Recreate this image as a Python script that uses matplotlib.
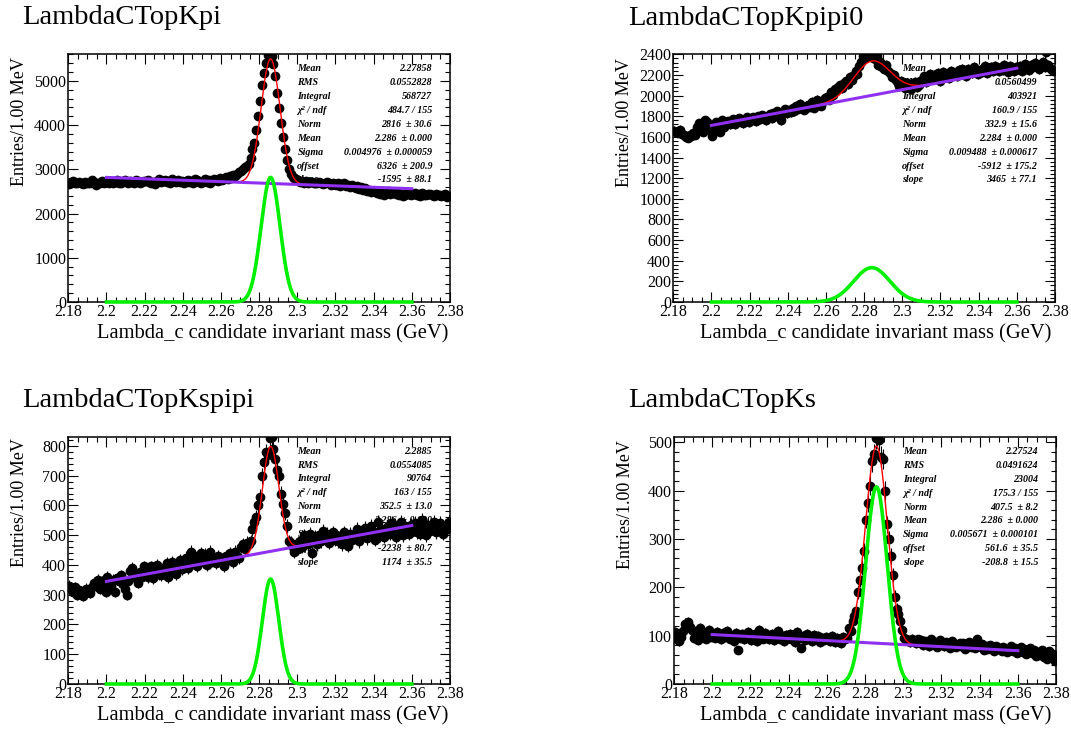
import numpy as np
import matplotlib
matplotlib.use("Agg")
import matplotlib.pyplot as plt
from matplotlib.ticker import MultipleLocator, FuncFormatter

plt.rcParams['font.family'] = ['Liberation Serif', 'DejaVu Serif']

W, H = 1071, 729

# 1 MeV bins between 2.18 and 2.38 GeV
nbins = 200
centers = np.linspace(2.1805, 2.3795, nbins)

kpi_counts = [
    2660, 2700, 2730, 2690, 2680, 2720, 2700, 2670, 2710, 2690,
    2700, 2680, 2760, 2710, 2640, 2700, 2690, 2730, 2700, 2720,
    2740, 2700, 2720, 2680, 2710, 2750, 2700, 2690, 2730, 2760,
    2720, 2700, 2740, 2710, 2690, 2760, 2730, 2700, 2720, 2740,
    2730, 2750, 2710, 2690, 2720, 2660, 2740, 2780, 2710, 2730,
    2760, 2720, 2740, 2700, 2780, 2730, 2710, 2750, 2720, 2740,
    2700, 2730, 2760, 2720, 2740, 2700, 2780, 2750, 2720, 2700,
    2740, 2790, 2720, 2760, 2700, 2740, 2780, 2760, 2730, 2800,
    2760, 2790, 2820, 2780, 2840, 2800, 2870, 2850, 2900, 2950,
    2960, 3010, 3050, 3080, 3120, 3250, 3450, 3600, 3880, 4200,
    4550, 4900, 5180, 5400, 5580, 5600, 5560, 5380, 5120, 4720,
    4380, 4040, 3740, 3470, 3210, 3000, 2900, 2830, 2800, 2790,
    2760, 2720, 2740, 2700, 2730, 2690, 2720, 2710, 2680, 2700,
    2690, 2720, 2700, 2660, 2690, 2710, 2680, 2650, 2700, 2670,
    2650, 2680, 2630, 2660, 2700, 2620, 2650, 2600, 2640, 2610,
    2580, 2620, 2560, 2600, 2540, 2570, 2500, 2530, 2480, 2520,
    2500, 2460, 2490, 2450, 2480, 2430, 2470, 2500, 2440, 2460,
    2480, 2440, 2460, 2420, 2450, 2400, 2430, 2460, 2440, 2420,
    2450, 2470, 2420, 2440, 2400, 2460, 2430, 2410, 2440, 2450,
    2420, 2400, 2450, 2410, 2430, 2390, 2420, 2440, 2380, 2400,
]

kpipi0_counts = [
    1660, 1650, 1640, 1670, 1630, 1620, 1600, 1590, 1620, 1610,
    1640, 1620, 1700, 1730, 1680, 1650, 1760, 1740, 1690, 1660,
    1610, 1700, 1740, 1720, 1650, 1760, 1700, 1730, 1750, 1720,
    1740, 1770, 1720, 1750, 1780, 1760, 1730, 1770, 1790, 1740,
    1760, 1790, 1780, 1750, 1800, 1770, 1810, 1790, 1760, 1800,
    1820, 1780, 1830, 1800, 1850, 1810, 1760, 1840, 1870, 1830,
    1860, 1840, 1880, 1850, 1900, 1870, 1920, 1890, 1860, 1880,
    1910, 1890, 1940, 1880, 1920, 1960, 1930, 1900, 1950, 1980,
    1990, 1960, 2030, 2010, 2060, 2040, 2080, 2100, 2070, 2120,
    2140, 2110, 2180, 2150, 2200, 2240, 2210, 2290, 2330, 2380,
    2360, 2400, 2390, 2370, 2400, 2350, 2380, 2300, 2330, 2280,
    2260, 2300, 2240, 2220, 2180, 2200, 2150, 2120, 2090, 2140,
    2100, 2070, 2120, 2090, 2060, 2110, 2130, 2080, 2100, 2140,
    2150, 2190, 2130, 2170, 2210, 2160, 2200, 2180, 2220, 2140,
    2200, 2230, 2180, 2210, 2170, 2240, 2200, 2220, 2190, 2250,
    2210, 2260, 2230, 2190, 2260, 2240, 2220, 2280, 2250, 2210,
    2250, 2230, 2260, 2290, 2220, 2250, 2280, 2240, 2290, 2260,
    2240, 2280, 2250, 2300, 2260, 2230, 2290, 2270, 2240, 2280,
    2260, 2290, 2240, 2270, 2310, 2260, 2250, 2300, 2280, 2320,
    2290, 2260, 2310, 2330, 2280, 2420, 2300, 2270, 2250, 2240,
]

kspipi_counts = [
    330, 320, 310, 325, 300, 315, 305, 295, 310, 320,
    315, 305, 325, 340, 330, 350, 320, 345, 335, 310,
    360, 340, 330, 350, 310, 355, 345, 365, 335, 320,
    300, 345, 380, 390, 370, 355, 340, 375, 360, 395,
    380, 360, 370, 395, 355, 385, 400, 370, 365, 390,
    375, 405, 360, 390, 410, 380, 370, 400, 415, 385,
    400, 425, 390, 410, 445, 405, 430, 395, 420, 440,
    410, 435, 400, 425, 445, 415, 420, 405, 430, 410,
    420, 395, 430, 415, 440, 425, 410, 445, 430, 425,
    460, 470, 455, 475, 470, 480, 520, 545, 560, 600,
    630, 700, 745, 780, 770, 825, 830, 790, 755, 720,
    700, 640, 605, 575, 530, 480, 475, 460, 445, 470,
    455, 480, 460, 500, 490, 470, 505, 440, 485, 495,
    470, 500, 480, 515, 490, 505, 475, 495, 510, 485,
    500, 480, 495, 470, 510, 490, 465, 505, 485, 500,
    495, 520, 480, 510, 500, 525, 490, 505, 530, 500,
    485, 510, 545, 500, 520, 495, 515, 530, 505, 540,
    510, 495, 525, 515, 545, 500, 530, 520, 505, 535,
    520, 540, 510, 530, 505, 550, 525, 500, 535, 515,
    530, 545, 510, 525, 540, 515, 505, 530, 520, 545,
]

ks_counts = [
    108, 92, 88, 98, 110, 125, 122, 128, 118, 112,
    95, 102, 90, 115, 108, 100, 94, 105, 112, 98,
    104, 96, 108, 100, 92, 106, 98, 110, 102, 94,
    100, 88, 106, 70, 96, 104, 92, 98, 108, 100,
    90, 96, 104, 88, 112, 98, 94, 106, 100, 92,
    98, 104, 90, 96, 110, 94, 100, 88, 102, 96,
    104, 92, 98, 86, 108, 96, 74, 100, 90, 104,
    92, 98, 88, 102, 94, 100, 86, 96, 90, 98,
    94, 88, 100, 92, 86, 96, 90, 84, 98, 92,
    95, 115, 110, 130, 140, 150, 190, 215, 240, 275,
    340, 375, 410, 460, 475, 508, 510, 505, 470, 465,
    400, 330, 300, 265, 225, 180, 155, 145, 130, 112,
    95, 92, 90, 86, 94, 88, 84, 92, 86, 90,
    80, 88, 84, 78, 92, 82, 86, 76, 84, 90,
    82, 78, 86, 80, 74, 88, 82, 76, 80, 84,
    78, 84, 72, 80, 86, 76, 82, 74, 92, 78,
    76, 82, 70, 78, 72, 80, 74, 68, 78, 72,
    74, 68, 76, 70, 66, 72, 78, 68, 74, 64,
    70, 76, 66, 72, 62, 68, 74, 64, 70, 58,
    66, 60, 70, 56, 64, 52, 68, 58, 62, 48,
]

channels = ["LambdaCTopKpi", "LambdaCTopKpipi0", "LambdaCTopKspipi", "LambdaCTopKs"]
counts = [kpi_counts, kpipi0_counts, kspipi_counts, ks_counts]

# gaussian + linear fit results (range 2.20 - 2.36)
fit_norm = [2816, 332.9, 352.5, 407.5]
fit_mean = [2.286, 2.284, 2.286, 2.286]
fit_sigma = [0.004976, 0.009488, 0.004321, 0.005671]
fit_offset = [6326, -5912, -2238, 561.6]
fit_slope = [-1595, 3465, 1174, -208.8]
fit_lo, fit_hi = 2.20, 2.36

stat_names = ["Mean", "RMS", "Integral", "\u03c7\u00b2 / ndf", "Norm", "Mean",
              "Sigma", "offset", "slope"]
stat_values = [
    ["2.27858", "0.0552828", "568727", "484.7 / 155", "2816  \u00b1 30.6",
     "2.286  \u00b1 0.000", "0.004976  \u00b1 0.000059", "6326  \u00b1 200.9",
     "-1595  \u00b1 88.1"],
    ["2.27983", "0.0560499", "403921", "160.9 / 155", "332.9  \u00b1 15.6",
     "2.284  \u00b1 0.000", "0.009488  \u00b1 0.000617", "-5912  \u00b1 175.2",
     "3465  \u00b1 77.1"],
    ["2.2885", "0.0554085", "90764", "163 / 155", "352.5  \u00b1 13.0",
     "2.286  \u00b1 0.000", "0.004321  \u00b1 0.000178", "-2238  \u00b1 80.7",
     "1174  \u00b1 35.5"],
    ["2.27524", "0.0491624", "23004", "175.3 / 155", "407.5  \u00b1 8.2",
     "2.286  \u00b1 0.000", "0.005671  \u00b1 0.000101", "561.6  \u00b1 35.5",
     "-208.8  \u00b1 15.5"],
]

y_max = [5600, 2400, 831, 510]
y_major = [1000, 200, 100, 100]
y_minor = [200, 40, 20, 20]

# pad frames in pixels: left, right, top, bottom
frames = [(68.3, 450, 54.3, 302), (673.3, 1055, 54.3, 302),
          (68.3, 450, 436.7, 684), (674, 1056, 437.3, 684)]
title_xy = [(22, 24), (628, 25), (22, 406.7), (628, 406.7)]
ylab_xy = [(19.5, 57), (624.5, 58), (19.5, 438), (625, 440)]
xlab_xy = [(448, 338), (1051, 338), (448, 720), (1051, 720)]

fig = plt.figure(figsize=(W / 100, H / 100), dpi=100)


def fx(px):
    return px / W


def fy(py):
    return 1 - py / H


fmt = FuncFormatter(lambda v, p: "%g" % round(v, 4))

for k in range(4):
    l, r, t, b = frames[k]
    ax = fig.add_axes([fx(l), fy(b), (r - l) / W, (b - t) / H])
    y = np.array(counts[k], dtype=float)

    ax.errorbar(centers, y, yerr=np.sqrt(y), xerr=0.0005, fmt='o', color='black',
                ms=6, elinewidth=0.8, capsize=0, zorder=2)

    xs = np.linspace(fit_lo, fit_hi, 800)
    gaus = fit_norm[k] * np.exp(-0.5 * ((xs - fit_mean[k]) / fit_sigma[k]) ** 2)
    line = fit_offset[k] + fit_slope[k] * xs
    ax.plot(xs, gaus + line, color='red', lw=1.0, zorder=3)
    ax.plot(xs, line, color='#9030f0', lw=2.2, zorder=4)
    ax.plot(xs, gaus, color='#00f000', lw=2.6, zorder=4, clip_on=False)

    ax.set_xlim(2.18, 2.38)
    ax.set_ylim(0, y_max[k])
    ax.xaxis.set_major_locator(MultipleLocator(0.02))
    ax.xaxis.set_minor_locator(MultipleLocator(0.005))
    ax.yaxis.set_major_locator(MultipleLocator(y_major[k]))
    ax.yaxis.set_minor_locator(MultipleLocator(y_minor[k]))
    ax.xaxis.set_major_formatter(fmt)
    ax.yaxis.set_major_formatter(fmt)
    ax.tick_params(which='both', direction='in', top=True, right=True, width=0.8,
                   labelsize=11.5, pad=1.5)
    ax.tick_params(which='major', length=7.5)
    ax.tick_params(which='minor', length=3.8)
    for s in ax.spines.values():
        s.set_linewidth(1.1)

    # stats box, drawn underneath the points
    for i, (nm, val) in enumerate(zip(stat_names, stat_values[k])):
        yy = 0.941 - 0.056 * i
        ax.text(0.60, yy, nm, transform=ax.transAxes, ha='left', va='center',
                fontsize=7.2, fontweight='bold', fontstyle='italic', zorder=1)
        ax.text(0.953, yy, val, transform=ax.transAxes, ha='right', va='center',
                fontsize=7.2, fontweight='bold', fontstyle='italic', zorder=1)

    tx, ty = title_xy[k]
    fig.text(fx(tx), fy(ty), channels[k], fontsize=20.5, ha='left', va='baseline')
    lx, ly = ylab_xy[k]
    fig.text(fx(lx), fy(ly), "Entries/1.00 MeV", fontsize=13, rotation=90,
             ha='center', va='top')
    xx, xy = xlab_xy[k]
    fig.text(fx(xx), fy(xy), "Lambda_c candidate invariant mass (GeV)",
             fontsize=14.8, ha='right', va='baseline')

fig.savefig("out.png", dpi=100)
